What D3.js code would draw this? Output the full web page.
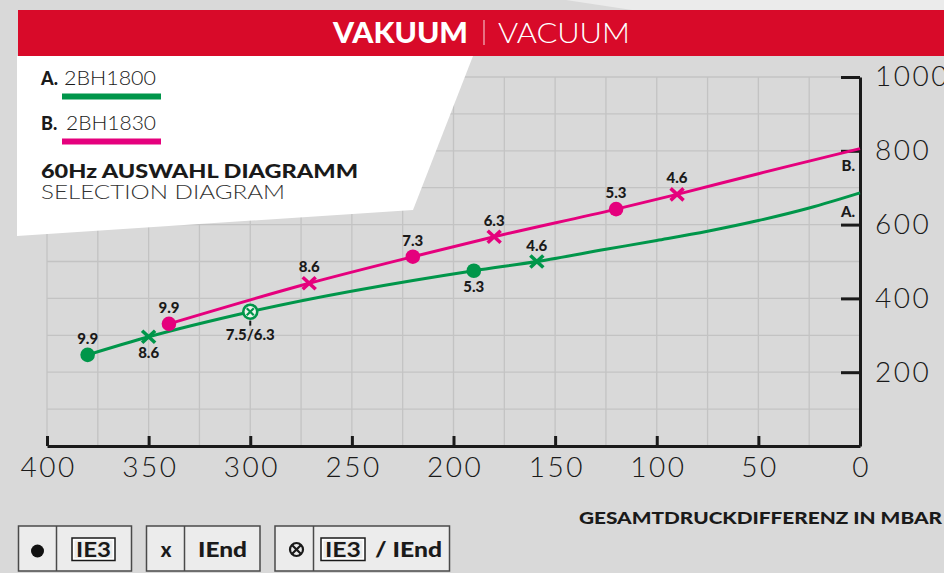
<!DOCTYPE html>
<html>
<head>
<meta charset="utf-8">
<script src="https://cdn.jsdelivr.net/npm/d3@7"></script>
<style>
  html, body { margin: 0; padding: 0; background: #d9d9d9; }
  svg { display: block; }
  .light { font-family: "Lato", "Open Sans", sans-serif; font-weight: 300; }
  .bold { font-family: "Lato", "Open Sans", sans-serif; font-weight: 700; }
  .heavy { font-family: "Lato", "Open Sans", sans-serif; font-weight: 900; }
</style>
</head>
<body>
<script>
// chart values
const xTicks = [400, 350, 300, 250, 200, 150, 100, 50, 0];
const yTicks = [200, 400, 600, 800, 1000];
const seriesNames = ["2BH1800", "2BH1830"];
const seriesKeys = ["A.", "B."];

// curve of 2BH1800 (pressure difference, vacuum)
const curveA = [[380, 247], [350, 296], [300, 364], [190, 475], [159, 500], [125, 533],
                [100, 557], [75, 582], [50, 611], [25, 645], [0, 686]];
// curve of 2BH1830
const curveB = [[340, 331], [271, 441], [220, 513], [180, 567], [120, 642], [90, 682],
                [50, 738], [25, 772], [0, 806]];

// marked motor points: [x, y, kind, label, side]
const pointsA = [[380, 247, "dot", "9.9", "above"], [350, 296, "cross", "8.6", "below"],
                 [300, 364, "both", "7.5/6.3", "below"], [190, 475, "dot", "5.3", "below"],
                 [159, 500, "cross", "4.6", "above"]];
const pointsB = [[340, 331, "dot", "9.9", "above"], [271, 441, "cross", "8.6", "above"],
                 [220, 513, "dot", "7.3", "above"], [180, 567, "cross", "6.3", "above"],
                 [120, 642, "dot", "5.3", "above"], [90, 682, "cross", "4.6", "above"]];

const colors = ["#00964a", "#e5007d"];
const red = "#d80a29";

const width = 944, height = 573;
const svg = d3.select("body").append("svg")
    .attr("width", width)
    .attr("height", height);

svg.append("rect").attr("width", width).attr("height", height).attr("fill", "#d9d9d9");
svg.append("polygon")
    .attr("points", "566,0 944,0 944,10 632,10")
    .attr("fill", "#ebebeb");

const xScale = d3.scaleLinear().domain([400, 0]).range([47, 860]);
const yScale = d3.scaleLinear().domain([0, 1000]).range([446, 77]);

// grid
const grid = svg.append("g").attr("stroke", "#c3c3c3").attr("stroke-width", 1.3);
grid.selectAll(".vg")
    .data(d3.range(0, 401, 25))
    .join("line")
    .attr("x1", (d) => xScale(d)).attr("x2", (d) => xScale(d))
    .attr("y1", yScale(0)).attr("y2", yScale(1000));
grid.selectAll(".hg")
    .data(d3.range(100, 1001, 100))
    .join("line")
    .attr("x1", xScale(400)).attr("x2", xScale(0))
    .attr("y1", (d) => yScale(d)).attr("y2", (d) => yScale(d));

// white header panel
svg.append("polygon")
    .attr("points", "17,56 473,56 413,210 17,236")
    .attr("fill", "#ffffff");

// red title bar
svg.append("rect")
    .attr("x", 18).attr("y", 10).attr("width", width - 18).attr("height", 46)
    .attr("fill", red);
svg.append("text").attr("class", "heavy")
    .attr("x", 333).attr("y", 43)
    .attr("font-size", 28).attr("fill", "#fff")
    .attr("textLength", 135).attr("lengthAdjust", "spacingAndGlyphs")
    .text("VAKUUM");
svg.append("line")
    .attr("x1", 484).attr("x2", 484).attr("y1", 20).attr("y2", 45)
    .attr("stroke", "#f4b7c0").attr("stroke-width", 1.2);
svg.append("text").attr("class", "light")
    .attr("x", 498).attr("y", 43)
    .attr("font-size", 28).attr("fill", "#fff")
    .attr("textLength", 132).attr("lengthAdjust", "spacingAndGlyphs")
    .text("VACUUM");

// legend in panel
seriesNames.forEach((name, i) => {
    const base = 85 + i * 45;
    svg.append("text").attr("class", "heavy")
        .attr("x", 41).attr("y", base).attr("font-size", 18).attr("fill", "#1a1a1a")
        .text(seriesKeys[i]);
    svg.append("text").attr("class", "light")
        .attr("x", 64 + i * 2).attr("y", base).attr("font-size", 20).attr("fill", "#1a1a1a")
        .attr("textLength", 92 - i * 2).attr("lengthAdjust", "spacingAndGlyphs")
        .text(name);
    svg.append("rect")
        .attr("x", 62).attr("y", base + 8.5).attr("width", 99).attr("height", 6)
        .attr("fill", colors[i]);
});
svg.append("text").attr("class", "heavy")
    .attr("x", 41).attr("y", 178).attr("font-size", 19).attr("fill", "#1a1a1a")
    .attr("textLength", 317).attr("lengthAdjust", "spacingAndGlyphs")
    .text("60Hz AUSWAHL DIAGRAMM");
svg.append("text").attr("class", "light")
    .attr("x", 41).attr("y", 199).attr("font-size", 19).attr("fill", "#333")
    .attr("textLength", 244).attr("lengthAdjust", "spacingAndGlyphs")
    .text("SELECTION DIAGRAM");

// axes
const xAxis = d3.axisBottom(xScale).tickValues(xTicks).tickSizeInner(-10).tickSizeOuter(0)
    .tickPadding(11).tickFormat(d3.format("d"));
const yAxis = d3.axisRight(yScale).tickValues(yTicks).tickSizeInner(-19).tickSizeOuter(0)
    .tickPadding(15).tickFormat(d3.format("d"));

const gx = svg.append("g")
    .attr("transform", `translate(0, ${yScale(0)})`)
    .call(xAxis);
const gy = svg.append("g")
    .attr("transform", `translate(${xScale(0)}, 0)`)
    .call(yAxis);
[gx, gy].forEach((g) => {
    g.select(".domain").attr("stroke", "#1a1a1a").attr("stroke-width", 3);
    g.selectAll(".tick line").attr("stroke", "#1a1a1a").attr("stroke-width", 3);
    g.selectAll(".tick text")
        .attr("class", "light")
        .attr("font-size", 28)
        .attr("letter-spacing", 2.5)
        .attr("fill", "#1a1a1a");
});
gx.selectAll(".tick text").attr("dx", 1.2);

svg.append("text").attr("class", "heavy")
    .attr("x", 579).attr("y", 524).attr("font-size", 17).attr("fill", "#1a1a1a")
    .attr("textLength", 363).attr("lengthAdjust", "spacingAndGlyphs")
    .text("GESAMTDRUCKDIFFERENZ IN MBAR");

// curves
const line = d3.line()
    .x((d) => xScale(d[0]))
    .y((d) => yScale(d[1]))
    .curve(d3.curveMonotoneX);

[curveA, curveB].forEach((c, i) => {
    svg.append("path")
        .datum(c)
        .attr("d", line)
        .attr("fill", "none")
        .attr("stroke", colors[i])
        .attr("stroke-width", 3);
});

// end keys A. / B.
[curveA, curveB].forEach((c, i) => {
    const last = c[c.length - 1];
    svg.append("text").attr("class", "heavy")
        .attr("x", xScale(0) - 5)
        .attr("y", yScale(last[1]) + (i === 0 ? 24 : 22))
        .attr("text-anchor", "end")
        .attr("font-size", 15).attr("fill", "#1a1a1a")
        .text(seriesKeys[i]);
});

// markers
function drawCross(g, cx, cy, color) {
    g.append("path")
        .attr("d", `M${cx - 6.5},${cy - 6} L${cx + 6.5},${cy + 6} M${cx + 6.5},${cy - 6} L${cx - 6.5},${cy + 6}`)
        .attr("stroke", color).attr("stroke-width", 3.6).attr("fill", "none");
}

[pointsA, pointsB].forEach((pts, i) => {
    const g = svg.append("g");
    pts.forEach((p) => {
        const cx = xScale(p[0]), cy = yScale(p[1]);
        if (p[2] === "dot") {
            g.append("circle").attr("cx", cx).attr("cy", cy).attr("r", 7.3).attr("fill", colors[i]);
        } else if (p[2] === "cross") {
            drawCross(g, cx, cy, colors[i]);
        } else {
            g.append("circle").attr("cx", cx).attr("cy", cy).attr("r", 7)
                .attr("fill", "#eef5ee").attr("stroke", colors[i]).attr("stroke-width", 2.6);
            g.append("path")
                .attr("d", `M${cx - 3.5},${cy - 3.5} L${cx + 3.5},${cy + 3.5} M${cx + 3.5},${cy - 3.5} L${cx - 3.5},${cy + 3.5}`)
                .attr("stroke", colors[i]).attr("stroke-width", 2.2);
            g.append("line")
                .attr("x1", cx).attr("x2", cx).attr("y1", cy + 9).attr("y2", cy + 14)
                .attr("stroke", "#1a1a1a").attr("stroke-width", 2);
        }
        let ty = p[4] === "above" ? cy - 11 : cy + 21;
        if (p[2] === "both") ty = cy + 28;
        g.append("text").attr("class", "heavy")
            .attr("x", cx).attr("y", ty)
            .attr("text-anchor", "middle")
            .attr("font-size", 15).attr("fill", "#1a1a1a")
            .text(p[3]);
    });
});

// symbol key at the bottom
const keyBoxes = [[18.5, 56.5, 131.5], [146.5, 184.5, 260], [275, 313.5, 449.5]];
const kg = svg.append("g");
keyBoxes.forEach((b) => {
    kg.append("rect")
        .attr("x", b[0]).attr("y", 526).attr("width", b[2] - b[0]).attr("height", 45)
        .attr("fill", "#ececec").attr("stroke", "#4a4a4a").attr("stroke-width", 1.5);
    kg.append("line")
        .attr("x1", b[1]).attr("x2", b[1]).attr("y1", 526).attr("y2", 571)
        .attr("stroke", "#4a4a4a").attr("stroke-width", 1.5);
});

function ie3Badge(x0, x1) {
    kg.append("rect")
        .attr("x", x0).attr("y", 538).attr("width", x1 - x0).attr("height", 22.5)
        .attr("fill", "#ffffff").attr("stroke", "#1a1a1a").attr("stroke-width", 1.5);
    kg.append("rect")
        .attr("x", x0 + 2.5).attr("y", 540.5).attr("width", x1 - x0 - 5).attr("height", 17.5)
        .attr("fill", "#ececec").attr("stroke", "none");
    kg.append("text").attr("class", "bold")
        .attr("x", (x0 + x1) / 2).attr("y", 556.5)
        .attr("text-anchor", "middle").attr("font-size", 20).attr("fill", "#1a1a1a")
        .attr("textLength", x1 - x0 - 8).attr("lengthAdjust", "spacingAndGlyphs")
        .text("IE3");
}

kg.append("circle").attr("cx", 37.5).attr("cy", 551).attr("r", 6.5).attr("fill", "#111");
ie3Badge(72, 115);

kg.append("text").attr("class", "heavy")
    .attr("x", 166).attr("y", 557).attr("text-anchor", "middle")
    .attr("font-size", 20).attr("fill", "#1a1a1a").text("x");
kg.append("text").attr("class", "heavy")
    .attr("x", 222.5).attr("y", 556.5).attr("text-anchor", "middle")
    .attr("font-size", 20).attr("fill", "#1a1a1a")
    .attr("textLength", 49).attr("lengthAdjust", "spacingAndGlyphs")
    .text("IEnd");

kg.append("circle").attr("cx", 296.5).attr("cy", 549.5).attr("r", 6.5)
    .attr("fill", "none").attr("stroke", "#1a1a1a").attr("stroke-width", 2.2);
kg.append("path")
    .attr("d", "M292.2,545.2 L300.8,553.8 M300.8,545.2 L292.2,553.8")
    .attr("stroke", "#1a1a1a").attr("stroke-width", 2.2);
ie3Badge(321, 365);
kg.append("text").attr("class", "heavy")
    .attr("x", 375).attr("y", 556.5)
    .attr("font-size", 20).attr("fill", "#1a1a1a")
    .attr("textLength", 67).attr("lengthAdjust", "spacingAndGlyphs")
    .text("/ IEnd");
</script>
</body>
</html>
